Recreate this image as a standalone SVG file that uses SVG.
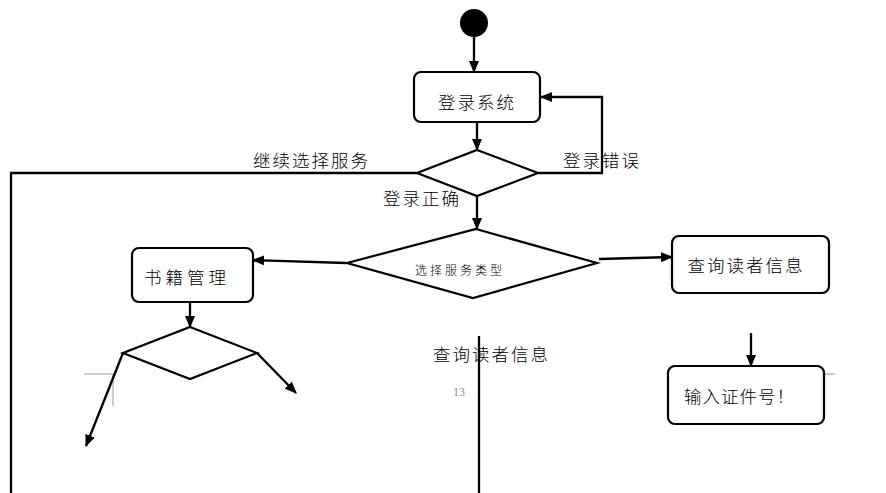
<svg xmlns="http://www.w3.org/2000/svg" width="886" height="493" viewBox="0 0 886 493">
<style>
.box{fill:#fff;stroke:#000;stroke-width:2.2}
.dia{fill:#fff;stroke:#000;stroke-width:2.2}
.ln{fill:none;stroke:#000;stroke-width:2.3}
.t{font-family:"Noto Sans CJK SC","Noto Sans CJK JP",sans-serif;font-size:17.5px;font-weight:300;fill:#000;dominant-baseline:central}
.g{fill:none;stroke:#999;stroke-width:1}
</style>
<defs>
<marker id="ar" markerUnits="userSpaceOnUse" markerWidth="12" markerHeight="10" refX="11" refY="5" orient="auto">
<path d="M0,0 L12,5 L0,10 Z" fill="#000"/>
</marker>
</defs>
<rect width="886" height="493" fill="#fff"/>
<g id="page-marks">
<path class="g" d="M84,374 H113 V406"/>
<path class="g" d="M825,374 H835"/>
<text x="459" y="392" style="font-family:'Liberation Serif',serif;font-size:12px;fill:#888;dominant-baseline:central" text-anchor="middle">13</text>
</g>
<g id="connectors">
<path class="ln" d="M474,37 V72" marker-end="url(#ar)"/>
<path class="ln" d="M477,122 V150" marker-end="url(#ar)"/>
<path class="ln" d="M538,173 H602 V97 H541" marker-end="url(#ar)"/>
<path class="ln" d="M417,173 H11 V493"/>
<path class="ln" d="M477,196 V229" marker-end="url(#ar)"/>
<path class="ln" d="M346,263 L253,260" marker-end="url(#ar)"/>
<path class="ln" d="M599,259 L672,257" marker-end="url(#ar)"/>
<path class="ln" d="M190,302 V327" marker-end="url(#ar)"/>
<path class="ln" d="M123,353 L86,446" marker-end="url(#ar)"/>
<path class="ln" d="M257,353 L296,393" marker-end="url(#ar)"/>
<path class="ln" d="M751,333 V366" marker-end="url(#ar)"/>
<path class="ln" d="M479,336 V493"/>
</g>
<g id="start">
<circle cx="474" cy="23" r="14" fill="#000"/>
</g>
<g id="login">
<rect class="box" x="414" y="72" width="126" height="50" rx="7"/>
<text class="t" x="477" y="101" text-anchor="middle" style="letter-spacing:2px">登录系统</text>
</g>
<g id="login-check">
<polygon class="dia" points="477,150 538,173 477,196 417,173"/>
</g>
<g id="service-type">
<polygon class="dia" points="476,229 597,263 473,298 347,263"/>
<text class="t" x="460" y="269" text-anchor="middle" style="font-size:12px;letter-spacing:3px">选择服务类型</text>
</g>
<g id="book-manage">
<rect class="box" x="132" y="248" width="121" height="54" rx="7"/>
<text class="t" x="187" y="276" text-anchor="middle" style="letter-spacing:4px">书籍管理</text>
</g>
<g id="book-decision">
<polygon class="dia" points="190,327 257,353 190,379 123,353"/>
</g>
<g id="query-reader">
<rect class="box" x="672" y="236" width="157" height="57" rx="7"/>
<text class="t" x="746" y="264" text-anchor="middle" style="letter-spacing:2px">查询读者信息</text>
</g>
<g id="input-id">
<rect class="box" x="668" y="366" width="156" height="58" rx="7"/>
<text class="t" x="684" y="395" style="letter-spacing:1px">输入证件号！</text>
</g>
<g id="labels">
<text class="t" x="253" y="159" style="letter-spacing:2px">继续选择服务</text>
<text class="t" x="563" y="159" style="letter-spacing:2px">登录错误</text>
<text class="t" x="383" y="197" style="letter-spacing:2px">登录正确</text>
<text class="t" x="433" y="353" style="letter-spacing:2px">查询读者信息</text>
</g>
</svg>
